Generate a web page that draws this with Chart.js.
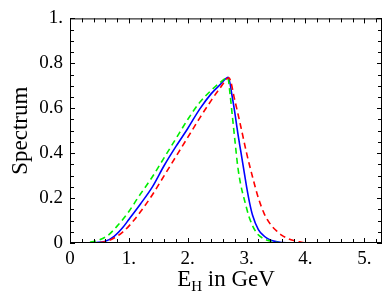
<!DOCTYPE html>
<html>
<head>
<meta charset="utf-8">
<script src="https://cdn.jsdelivr.net/npm/chart.js@4"></script>
<style>
  html, body { margin: 0; padding: 0; background: #fff; }
  #wrap { width: 392px; height: 294px; }
</style>
</head>
<body>
<div id="wrap"><canvas id="chart" width="392" height="294"></canvas></div>
<script>
// ---- data ----
const blueE = [0, 0.3, 0.45, 0.6, 0.75, 0.9, 1.0, 1.2, 1.4, 1.6, 1.8, 2.0, 2.2, 2.4, 2.55, 2.69, 2.75, 2.8, 2.85, 2.9, 2.95, 3.0, 3.05, 3.1, 3.2, 3.3, 3.4, 3.5, 3.6, 3.75, 4.0, 5.3];
const blueS = [0, 0, 0.002, 0.008, 0.03, 0.07, 0.105, 0.175, 0.25, 0.345, 0.43, 0.51, 0.595, 0.665, 0.705, 0.738, 0.66, 0.58, 0.49, 0.41, 0.33, 0.25, 0.18, 0.125, 0.06, 0.03, 0.014, 0.006, 0.002, 0, 0, 0];

const redE = [0, 0.35, 0.5, 0.65, 0.8, 0.9, 1.0, 1.2, 1.4, 1.6, 1.8, 2.0, 2.2, 2.4, 2.55, 2.7, 2.8, 2.9, 3.0, 3.1, 3.2, 3.3, 3.4, 3.5, 3.6, 3.7, 3.8, 3.9, 4.05, 5.3];
const redS = [0, 0, 0.002, 0.01, 0.03, 0.05, 0.075, 0.14, 0.215, 0.3, 0.385, 0.47, 0.555, 0.635, 0.69, 0.735, 0.635, 0.52, 0.4, 0.295, 0.2, 0.13, 0.085, 0.056, 0.034, 0.02, 0.011, 0.005, 0, 0];

const greenE = [0, 0.2, 0.35, 0.5, 0.65, 0.8, 1.0, 1.15, 1.4, 1.6, 1.8, 2.0, 2.2, 2.4, 2.55, 2.68, 2.72, 2.76, 2.8, 2.85, 2.9, 2.97, 3.05, 3.17, 3.3, 3.4, 3.5, 3.6, 5.3];
const greenS = [0, 0, 0.004, 0.014, 0.035, 0.075, 0.14, 0.2, 0.295, 0.38, 0.465, 0.55, 0.625, 0.68, 0.715, 0.737, 0.66, 0.56, 0.46, 0.34, 0.26, 0.185, 0.11, 0.045, 0.018, 0.009, 0.003, 0, 0];

const xTickValues = [0, 1, 2, 3, 4, 5];
const xTickLabels = ['0', '1.', '2.', '3.', '4.', '5.'];
const yTickValues = [0, 0.2, 0.4, 0.6, 0.8, 1];
const yTickLabels = ['0', '0.2', '0.4', '0.6', '0.8', '1.'];
const X_MAX = 5.3, X_MINOR = 0.2, Y_MINOR = 0.05;

const FONT = "'Liberation Serif', 'DejaVu Serif', serif";

function toPoints(xs, ys) {
    return xs.map((x, i) => ({ x: x, y: ys[i] }));
}

// frame with inward ticks + axis titles (Mathematica style)
const framePlugin = {
    id: 'frame',
    afterDraw(chart) {
        const ctx = chart.ctx, a = chart.chartArea;
        const xs = chart.scales.x, ys = chart.scales.y;
        ctx.save();
        ctx.strokeStyle = '#000';
        ctx.lineWidth = 1;
        ctx.strokeRect(a.left + 0.5, a.top + 0.5, a.right - a.left - 1, a.bottom - a.top - 1);

        ctx.beginPath();
        for (let v = 0; v <= X_MAX + 1e-9; v += X_MINOR) {
            const major = Math.abs(v - Math.round(v)) < 1e-6;
            const len = major ? 5 : 4;
            const px = Math.round(xs.getPixelForValue(v)) + 0.5;
            ctx.moveTo(px, a.bottom); ctx.lineTo(px, a.bottom - len);
            ctx.moveTo(px, a.top); ctx.lineTo(px, a.top + len);
        }
        for (let v = 0; v <= 1 + 1e-9; v += Y_MINOR) {
            const major = Math.abs(v * 5 - Math.round(v * 5)) < 1e-6;
            const len = major ? 5 : 4;
            const py = Math.round(ys.getPixelForValue(v)) + 0.5;
            ctx.moveTo(a.left, py); ctx.lineTo(a.left + len, py);
            ctx.moveTo(a.right, py); ctx.lineTo(a.right - len, py);
        }
        ctx.stroke();

        // x title: E_H in GeV
        ctx.fillStyle = '#000';
        ctx.textBaseline = 'alphabetic';
        ctx.textAlign = 'left';
        const big = "23px " + FONT, small = "15px " + FONT;
        ctx.font = big;
        const wE = ctx.measureText('E').width;
        const wRest = ctx.measureText(' in GeV').width;
        ctx.font = small;
        const wH = ctx.measureText('H').width;
        const total = wE + wH + wRest;
        let x0 = (a.left + a.right) / 2 - total / 2;
        const base = 286;
        ctx.font = big; ctx.fillText('E', x0, base);
        ctx.font = small; ctx.fillText('H', x0 + wE, base + 5);
        ctx.font = big; ctx.fillText(' in GeV', x0 + wE + wH, base);

        // y title
        ctx.save();
        ctx.translate(27, (a.top + a.bottom) / 2);
        ctx.rotate(-Math.PI / 2);
        ctx.textAlign = 'center';
        ctx.font = big;
        ctx.fillText('Spectrum', 0, 0);
        ctx.restore();
        ctx.restore();
    }
};

new Chart(document.getElementById('chart'), {
    type: 'line',
    data: {
        datasets: [
            { data: toPoints(redE, redS), borderColor: '#ff0000', borderWidth: 1.6, borderDash: [6, 4], pointRadius: 0, fill: false, cubicInterpolationMode: 'monotone' },
            { data: toPoints(greenE, greenS), borderColor: '#00ee00', borderWidth: 1.6, borderDash: [6, 4], pointRadius: 0, fill: false, cubicInterpolationMode: 'monotone' },
            { data: toPoints(blueE, blueS), borderColor: '#0000ff', borderWidth: 1.6, pointRadius: 0, fill: false, cubicInterpolationMode: 'monotone' }
        ]
    },
    options: {
        responsive: false,
        animation: false,
        layout: { padding: { top: 10, right: 10, left: 0, bottom: 0 } },
        plugins: { legend: { display: false }, tooltip: { enabled: false } },
        scales: {
            x: {
                type: 'linear', min: 0, max: X_MAX,
                afterFit: s => { s.height = 51; },
                afterBuildTicks: s => { s.ticks = xTickValues.map(v => ({ value: v })); },
                grid: { display: false, drawTicks: false },
                border: { display: false },
                ticks: {
                    padding: 5, color: '#000', maxRotation: 0, autoSkip: false,
                    font: { family: FONT, size: 19 },
                    callback: v => xTickLabels[xTickValues.indexOf(v)]
                }
            },
            y: {
                type: 'linear', min: 0, max: 1,
                afterFit: s => { s.width = 70; },
                afterBuildTicks: s => { s.ticks = yTickValues.map(v => ({ value: v })); },
                grid: { display: false, drawTicks: false },
                border: { display: false },
                ticks: {
                    padding: 7, color: '#000', autoSkip: false,
                    font: { family: FONT, size: 19 },
                    callback: v => yTickLabels[yTickValues.indexOf(v)]
                }
            }
        }
    },
    plugins: [framePlugin]
});
</script>
</body>
</html>
